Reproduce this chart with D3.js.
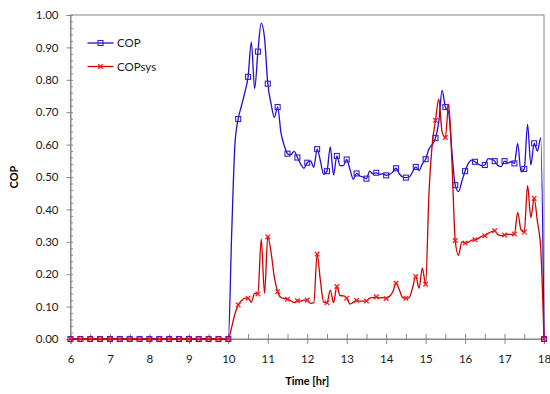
<!DOCTYPE html>
<html>
<head>
<meta charset="utf-8">
<script src="https://cdn.jsdelivr.net/npm/d3@7"></script>
<style>
  body { margin: 0; background: #fff; }
  text { font-family: Lato, "Open Sans", sans-serif; }
</style>
</head>
<body>
<div id="chart"></div>
<script>
// hours 6:00 .. 18:00 in 5 minute steps
var hours = d3.range(0, 145).map(function(i){ return 6 + i / 12; });

// COP, one row per hour (12 readings each)
var cop = [
  0,0,0,0,0,0,0,0,0,0,0,0,
  0,0,0,0,0,0,0,0,0,0,0,0,
  0,0,0,0,0,0,0,0,0,0,0,0,
  0,0,0,0,0,0,0,0,0,0,0,0,
  0, 0.32, 0.60, 0.679, 0.72, 0.76, 0.809, 0.916, 0.773, 0.887, 0.975, 0.93,
  0.788, 0.726, 0.684, 0.716, 0.637, 0.597, 0.572, 0.568, 0.579, 0.560, 0.54, 0.527,
  0.544, 0.55, 0.53, 0.586, 0.55, 0.508, 0.518, 0.593, 0.506, 0.565, 0.535, 0.535,
  0.554, 0.523, 0.493, 0.511, 0.503, 0.50, 0.495, 0.518, 0.51, 0.513, 0.508, 0.51,
  0.505, 0.508, 0.515, 0.527, 0.51, 0.50, 0.498, 0.50, 0.515, 0.531, 0.52, 0.54,
  0.555, 0.586, 0.60, 0.620, 0.67, 0.767, 0.716, 0.70, 0.578, 0.475, 0.455, 0.486,
  0.518, 0.542, 0.552, 0.547, 0.54, 0.535, 0.537, 0.557, 0.555, 0.549, 0.535, 0.532,
  0.549, 0.543, 0.547, 0.542, 0.604, 0.516, 0.525, 0.662, 0.537, 0.604, 0.58, 0.621,
  0
];

// COPsys
var copSys = [
  0,0,0,0,0,0,0,0,0,0,0,0,
  0,0,0,0,0,0,0,0,0,0,0,0,
  0,0,0,0,0,0,0,0,0,0,0,0,
  0,0,0,0,0,0,0,0,0,0,0,0,
  0, 0.036, 0.077, 0.105, 0.118, 0.126, 0.126, 0.113, 0.141, 0.139, 0.308, 0.141,
  0.315, 0.267, 0.19, 0.146, 0.128, 0.125, 0.123, 0.118, 0.112, 0.118, 0.117, 0.12,
  0.12, 0.11, 0.112, 0.262, 0.18, 0.113, 0.112, 0.151, 0.112, 0.162, 0.134, 0.133,
  0.126, 0.108, 0.113, 0.119, 0.117, 0.117, 0.117, 0.126, 0.128, 0.13, 0.127, 0.128,
  0.125, 0.131, 0.145, 0.172, 0.152, 0.128, 0.126, 0.128, 0.157, 0.193, 0.157, 0.219,
  0.169, 0.445, 0.60, 0.675, 0.74, 0.64, 0.622, 0.725, 0.547, 0.304, 0.258, 0.30,
  0.296, 0.298, 0.305, 0.306, 0.31, 0.317, 0.319, 0.326, 0.331, 0.334, 0.322, 0.319,
  0.321, 0.323, 0.323, 0.324, 0.391, 0.337, 0.33, 0.473, 0.375, 0.434, 0.362, 0.28,
  0
];

var xTicks = [6, 7, 8, 9, 10, 11, 12, 13, 14, 15, 16, 17, 18];
var yTicks = [0, 0.1, 0.2, 0.3, 0.4, 0.5, 0.6, 0.7, 0.8, 0.9, 1.0];

var W = 550, H = 394;
var margin = {top: 15, right: 6, bottom: 55, left: 70.5};
var width = W - margin.left - margin.right,
    height = H - margin.top - margin.bottom;

var axisColor = "#868686";
var blue = "#2a0ad6", red = "#d00000";

var svg = d3.select("#chart").append("svg")
    .attr("width", W)
    .attr("height", H);

var g = svg.append("g")
    .attr("transform", "translate(" + margin.left + "," + margin.top + ")");

var x = d3.scaleLinear().domain([6, 18]).range([0, width]);
var y = d3.scaleLinear().domain([0, 1]).range([height, 0]);

// frame
g.append("rect")
    .attr("x", 0).attr("y", 0)
    .attr("width", width).attr("height", height)
    .attr("fill", "none")
    .attr("stroke", axisColor);

// y minor ticks (inside)
g.append("g")
    .call(d3.axisLeft(y).tickValues(d3.range(0, 1.001, 0.02)).tickSize(-2.5).tickFormat(""))
    .call(function(a){ a.select(".domain").remove(); a.selectAll("line").attr("stroke", axisColor); });

// y major ticks with labels
g.append("g")
    .call(d3.axisLeft(y).tickValues(yTicks).tickSize(4).tickPadding(8).tickFormat(d3.format(".2f")))
    .call(function(a){
        a.select(".domain").attr("stroke", axisColor);
        a.selectAll("line").attr("stroke", axisColor);
        a.selectAll("text").attr("font-size", 11.5).attr("fill", "#1a1a1a")
            .style("font-family", "Lato, sans-serif");
    });

// x minor ticks (inside, half hours)
g.append("g")
    .attr("transform", "translate(0," + height + ")")
    .call(d3.axisBottom(x).tickValues(d3.range(6.5, 18, 1)).tickSize(-5).tickFormat(""))
    .call(function(a){ a.select(".domain").remove(); a.selectAll("line").attr("stroke", axisColor); });

// x major ticks crossing the axis
g.append("g")
    .attr("transform", "translate(0," + height + ")")
    .call(d3.axisBottom(x).tickValues(xTicks).tickSize(-5).tickFormat(""))
    .call(function(a){ a.select(".domain").remove(); a.selectAll("line").attr("stroke", axisColor); });

g.append("g")
    .attr("transform", "translate(0," + height + ")")
    .call(d3.axisBottom(x).tickValues(xTicks).tickSize(5).tickPadding(11).tickFormat(d3.format("d")))
    .call(function(a){
        a.select(".domain").attr("stroke", axisColor);
        a.selectAll("line").attr("stroke", axisColor);
        a.selectAll("text").attr("font-size", 11.5).attr("fill", "#1a1a1a")
            .style("font-family", "Lato, sans-serif");
    });

// axis titles
svg.append("text")
    .attr("x", margin.left + width / 2)
    .attr("y", 385)
    .attr("text-anchor", "middle")
    .attr("font-size", 11)
    .attr("font-weight", "bold")
    .text("Time [hr]");

svg.append("text")
    .attr("transform", "translate(18," + (margin.top + height / 2) + ") rotate(-90)")
    .attr("text-anchor", "middle")
    .attr("font-size", 11)
    .attr("font-weight", "bold")
    .text("COP");

var line = function(vals){
    return d3.line()
        .x(function(d, i){ return x(hours[i]); })
        .y(function(d){ return y(d); })
        .curve(d3.curveMonotoneX)(vals);
};

var series = [
    {name: "COP", values: cop, color: blue, marker: "square"},
    {name: "COPsys", values: copSys, color: red, marker: "cross"}
];

function drawMarker(sel, type, color) {
    if (type == "square") {
        sel.append("rect")
            .attr("x", -2.5).attr("y", -2.5)
            .attr("width", 5).attr("height", 5)
            .attr("fill", "none")
            .attr("stroke", "#3322cc")
            .attr("stroke-width", 1.1);
    } else {
        sel.append("path")
            .attr("d", "M-2.3,-2.3L2.3,2.3M-2.3,2.3L2.3,-2.3")
            .attr("stroke", "#ff1a1a")
            .attr("stroke-width", 1.3);
    }
}

series.forEach(function(s){
    g.append("path")
        .attr("d", line(s.values))
        .attr("fill", "none")
        .attr("stroke", s.color)
        .attr("stroke-width", 1.3);

    var pts = s.values.map(function(v, i){ return {t: hours[i], v: v, i: i}; })
        .filter(function(d){ return d.i % 3 == 0; });

    var m = g.append("g").selectAll("g")
        .data(pts)
        .enter().append("g")
        .attr("transform", function(d){ return "translate(" + x(d.t) + "," + y(d.v) + ")"; });
    drawMarker(m, s.marker, s.color);
});

// legend
var legend = g.append("g").attr("transform", "translate(17,28)");
series.forEach(function(s, i){
    var row = legend.append("g").attr("transform", "translate(0," + (i * 23.5) + ")");
    row.append("line")
        .attr("x1", 0).attr("x2", 26)
        .attr("stroke", s.color)
        .attr("stroke-width", 1.3);
    drawMarker(row.append("g").attr("transform", "translate(13,0)"), s.marker, s.color);
    row.append("text")
        .attr("x", 29.5).attr("y", 4)
        .attr("font-size", 11.5)
        .attr("fill", "#1a1a1a")
        .text(s.name);
});
</script>
</body>
</html>
